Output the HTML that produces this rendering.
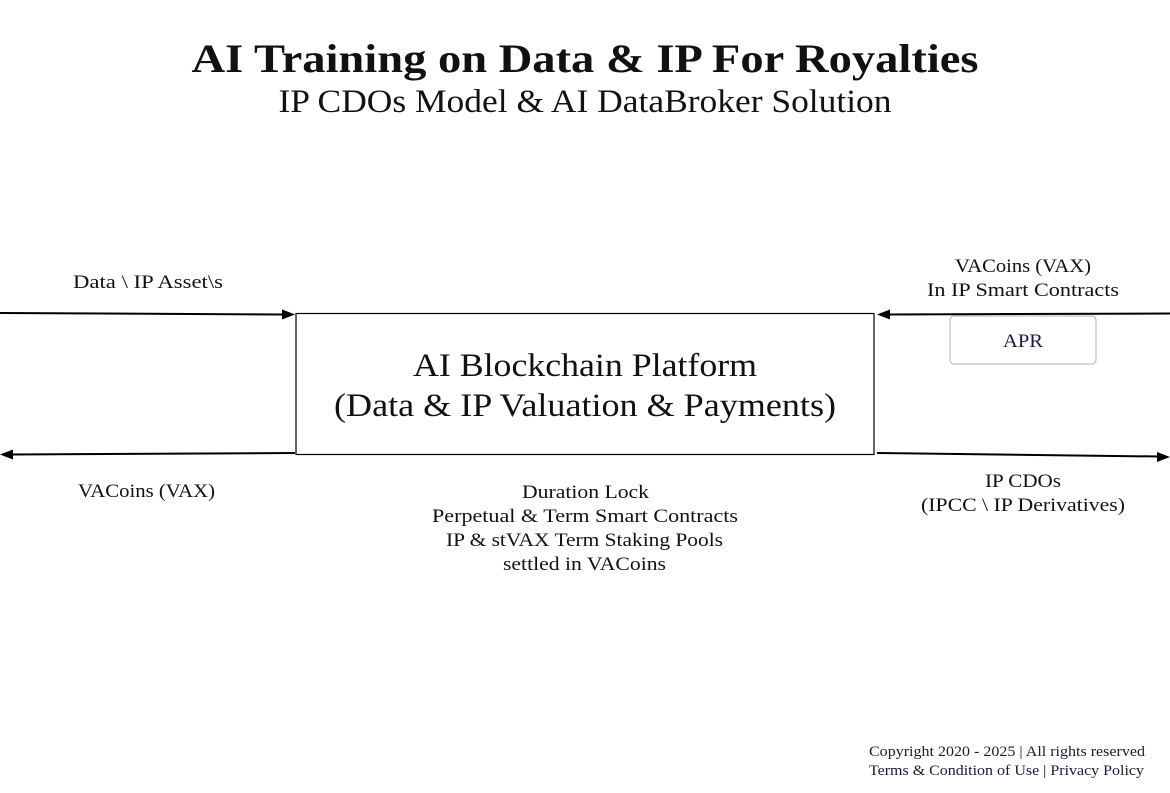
<!DOCTYPE html>
<html><head><meta charset="utf-8"><style>
html,body{margin:0;padding:0;background:#fff;width:1170px;height:793px;overflow:hidden}
svg text{font-family:"Liberation Serif","DejaVu Serif",serif;fill:#111}
</style></head><body>
<svg width="1170" height="793" viewBox="0 0 1170 793" xmlns="http://www.w3.org/2000/svg">
<text x="585" y="72" text-anchor="middle" font-size="40" font-weight="bold" textLength="787" lengthAdjust="spacingAndGlyphs">AI Training on Data &amp; IP For Royalties</text>
<text x="585" y="112" text-anchor="middle" font-size="33" textLength="613" lengthAdjust="spacingAndGlyphs">IP CDOs Model &amp; AI DataBroker Solution</text>

<rect x="296" y="313.5" width="578" height="141" fill="none" stroke="#000" stroke-width="1.2"/>
<text x="585" y="376" text-anchor="middle" font-size="33" textLength="344" lengthAdjust="spacingAndGlyphs">AI Blockchain Platform</text>
<text x="585" y="416" text-anchor="middle" font-size="33" textLength="502" lengthAdjust="spacingAndGlyphs">(Data &amp; IP Valuation &amp; Payments)</text>

<g stroke="#000" stroke-width="2" fill="#000">
<line x1="0" y1="313" x2="284" y2="314.5"/>
<polygon points="295,314.5 282,309.5 282,319.5" stroke="none"/>
<line x1="295" y1="453" x2="11" y2="454.5"/>
<polygon points="0,454.5 13,449.5 13,459.5" stroke="none"/>
<line x1="1170" y1="313.5" x2="888" y2="314.5"/>
<polygon points="877,314.5 890,309.5 890,319.5" stroke="none"/>
<line x1="877" y1="453" x2="1159" y2="456.5"/>
<polygon points="1170,457 1157,452 1157,462" stroke="none"/>
</g>

<rect x="950" y="316" width="146" height="48" rx="4" fill="#fff" stroke="#b0b0b0" stroke-width="1"/>
<text x="1023" y="347" text-anchor="middle" font-size="19" textLength="40" lengthAdjust="spacingAndGlyphs" style="fill:#1a1a4a">APR</text>

<g font-size="19" text-anchor="middle">
<text x="148" y="288" textLength="150" lengthAdjust="spacingAndGlyphs">Data \ IP Asset\s</text>
<text x="146.5" y="497" textLength="137" lengthAdjust="spacingAndGlyphs">VACoins (VAX)</text>
<text x="1023" y="272" textLength="136" lengthAdjust="spacingAndGlyphs">VACoins (VAX)</text>
<text x="1023" y="296" textLength="192" lengthAdjust="spacingAndGlyphs">In IP Smart Contracts</text>
<text x="1023" y="487" textLength="76" lengthAdjust="spacingAndGlyphs">IP CDOs</text>
<text x="1023" y="511" textLength="204" lengthAdjust="spacingAndGlyphs">(IPCC \ IP Derivatives)</text>
<text x="585.5" y="498" textLength="127" lengthAdjust="spacingAndGlyphs">Duration Lock</text>
<text x="585" y="522" textLength="306" lengthAdjust="spacingAndGlyphs">Perpetual &amp; Term Smart Contracts</text>
<text x="584.5" y="546" textLength="277" lengthAdjust="spacingAndGlyphs">IP &amp; stVAX Term Staking Pools</text>
<text x="584.5" y="570" textLength="163" lengthAdjust="spacingAndGlyphs">settled in VACoins</text>
</g>

<g font-size="15">
<text x="869" y="756" textLength="276" lengthAdjust="spacingAndGlyphs" style="fill:#1a1a3a">Copyright 2020 - 2025 | All rights reserved</text>
<text x="869" y="775" textLength="275" lengthAdjust="spacingAndGlyphs" style="fill:#1a1a3a">Terms &amp; Condition of Use | Privacy Policy</text>
</g>
</svg>
</body></html>
